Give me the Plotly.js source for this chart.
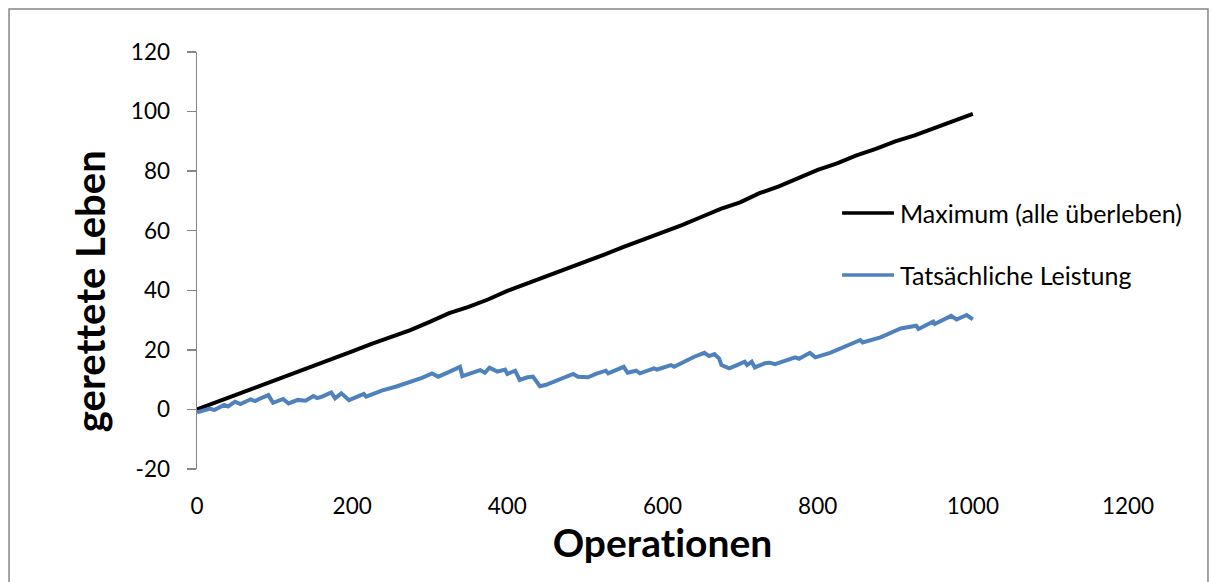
<!DOCTYPE html>
<html>
<head>
<meta charset="utf-8">
<script src="https://cdn.plot.ly/plotly-3.0.1.min.js"></script>
<style>
  html, body { margin: 0; padding: 0; background: #fff; }
  #chart { width: 1214px; height: 582px; }
  #chart svg text { font-variant-ligatures: none; font-feature-settings: "liga" 0, "clig" 0; }
</style>
</head>
<body>
<div id="chart"></div>
<script>
// Operations counter (x) and saved lives (y) for both series
const maxOps = [0, 25, 50, 75, 100, 125, 150, 175, 200, 225, 250, 275, 300, 325, 350, 375, 400, 425, 450, 475, 500,
  525, 550, 575, 600, 625, 650, 675, 700, 725, 750, 775, 800, 825, 850, 875, 900, 925, 950, 975, 1000];
const maxLives = [0, 2.4, 5.0, 7.3, 9.8, 12.2, 14.6, 17.1, 19.5, 22.0, 24.3, 26.6, 29.4, 32.3, 34.4, 36.9, 39.8, 42.2,
  44.6, 47.3, 49.5, 52.0, 54.6, 57.0, 59.6, 61.9, 64.6, 67.3, 69.5, 72.6, 74.9, 77.6, 80.4, 82.6, 85.3, 87.5, 90.0,
  92.0, 94.4, 96.9, 99.2];

const actOps = [0, 17, 22, 35, 40, 49, 56, 69, 75, 80, 92, 98, 111, 118, 130, 140, 150, 155, 162, 173, 178, 186, 196,
  215, 218, 238, 257, 277, 290, 303, 311, 325, 339, 342, 355, 365, 371, 377, 387, 397, 400, 410, 416, 426, 433, 442,
  449, 465, 485, 491, 504, 515, 527, 530, 550, 555, 566, 571, 589, 593, 611, 615, 641, 654, 660, 667, 673, 676, 686,
  696, 706, 709, 715, 719, 732, 738, 745, 771, 776, 790, 797, 816, 835, 855, 858, 881, 907, 927, 930, 949, 951, 972,
  979, 986, 992, 1000];
const actLives = [-1.0, 0.3, -0.2, 1.5, 1.0, 2.6, 1.8, 3.4, 2.8, 3.5, 4.8, 2.2, 3.5, 2.0, 3.2, 2.9, 4.5, 3.8, 4.4, 5.7,
  3.7, 5.4, 3.1, 5.2, 4.3, 6.3, 7.7, 9.3, 10.6, 12.1, 11.0, 12.6, 14.3, 11.2, 12.2, 13.2, 12.3, 14.0, 12.7, 13.4, 11.9,
  13.0, 9.9, 10.8, 11.0, 7.8, 8.2, 9.9, 11.9, 11.0, 10.8, 12.0, 13.0, 12.1, 14.3, 12.3, 13.0, 12.1, 13.8, 13.4, 14.9,
  14.3, 17.7, 19.0, 17.9, 18.6, 17.1, 14.9, 13.8, 14.9, 16.0, 14.9, 16.0, 14.1, 15.5, 15.7, 15.2, 17.5, 17.0, 19.0,
  17.5, 19.0, 21.2, 23.3, 22.5, 24.2, 27.2, 28.1, 27.0, 29.5, 28.7, 31.4, 30.2, 31.0, 31.7, 30.2];

const seriesNames = ['Maximum (alle überleben)', 'Tatsächliche Leistung'];
const seriesColors = ['#000000', '#4F81BD'];
const xTicks = [0, 200, 400, 600, 800, 1000, 1200];
const yTicks = [-20, 0, 20, 40, 60, 80, 100, 120];

const FONT = 'Lato, "Open Sans", sans-serif';
const AXIS_GREY = '#868686';
const Y_MIN = -20, Y_MAX = 120;

const traces = [
  { x: maxOps, y: maxLives, name: seriesNames[0], mode: 'lines', type: 'scatter',
    line: { color: seriesColors[0], width: 4 } },
  { x: actOps, y: actLives, name: seriesNames[1], mode: 'lines', type: 'scatter',
    line: { color: seriesColors[1], width: 4 } }
];

// Legend drawn as line swatches + labels at the right of the plot
const legendShapes = [], legendNotes = [];
const legendY = [0.614, 0.465];
seriesNames.forEach((nm, i) => {
  legendShapes.push({ type: 'line', xref: 'paper', yref: 'paper',
    x0: 0.6929, x1: 0.7486, y0: legendY[i], y1: legendY[i],
    line: { color: seriesColors[i], width: 3.5 } });
  legendNotes.push({ xref: 'paper', yref: 'paper', x: 0.7530, y: legendY[i],
    xanchor: 'left', yanchor: 'middle', showarrow: false, text: nm,
    font: { family: FONT, size: 25, color: '#000' } });
});

const layout = {
  width: 1214, height: 582,
  margin: { l: 197, r: 86, t: 52, b: 113 },
  paper_bgcolor: '#fff', plot_bgcolor: '#fff',
  showlegend: false,
  font: { family: FONT, size: 22, color: '#000' },
  xaxis: {
    range: [0, 1200], tickvals: xTicks, ticktext: xTicks.map(String),
    showgrid: false, zeroline: false, showline: false, ticks: '',
    ticklabelstandoff: 21, tickfont: { family: FONT, size: 22.5 },
    title: { text: 'Operationen', font: { family: FONT, size: 39, weight: 'bold' }, standoff: 12 }
  },
  xaxis2: {
    overlaying: 'x', anchor: 'free', position: (0 - Y_MIN) / (Y_MAX - Y_MIN),
    range: [0, 1200], tickvals: xTicks, showticklabels: false,
    showgrid: false, zeroline: false, showline: true, linecolor: AXIS_GREY, linewidth: 1.5,
    ticks: 'outside', ticklen: 8, tickwidth: 1.5, tickcolor: AXIS_GREY
  },
  yaxis: {
    range: [Y_MIN, Y_MAX], tickvals: yTicks, ticktext: yTicks.map(String),
    showgrid: false, zeroline: false, showline: true, linecolor: AXIS_GREY, linewidth: 1.5,
    ticks: 'outside', ticklen: 9, tickwidth: 1.5, tickcolor: AXIS_GREY,
    ticklabelstandoff: 12, tickfont: { family: FONT, size: 22.5 }
  },
  shapes: [
    // chart frame
    { type: 'rect', xref: 'paper', yref: 'paper', x0: -0.2019, x1: 1.0859, y0: -0.4, y1: 1.1031,
      line: { color: AXIS_GREY, width: 1.5 }, fillcolor: 'rgba(0,0,0,0)', layer: 'below' }
  ].concat(legendShapes),
  annotations: [
    { xref: 'paper', yref: 'paper', x: -0.1145, y: 0.427, textangle: -90,
      showarrow: false, xanchor: 'center', yanchor: 'middle', text: 'gerettete Leben',
      font: { family: FONT, size: 40, weight: 'bold', color: '#000' } }
  ].concat(legendNotes)
};

Plotly.newPlot('chart', traces, layout, { displayModeBar: false, staticPlot: true });
</script>
</body>
</html>
